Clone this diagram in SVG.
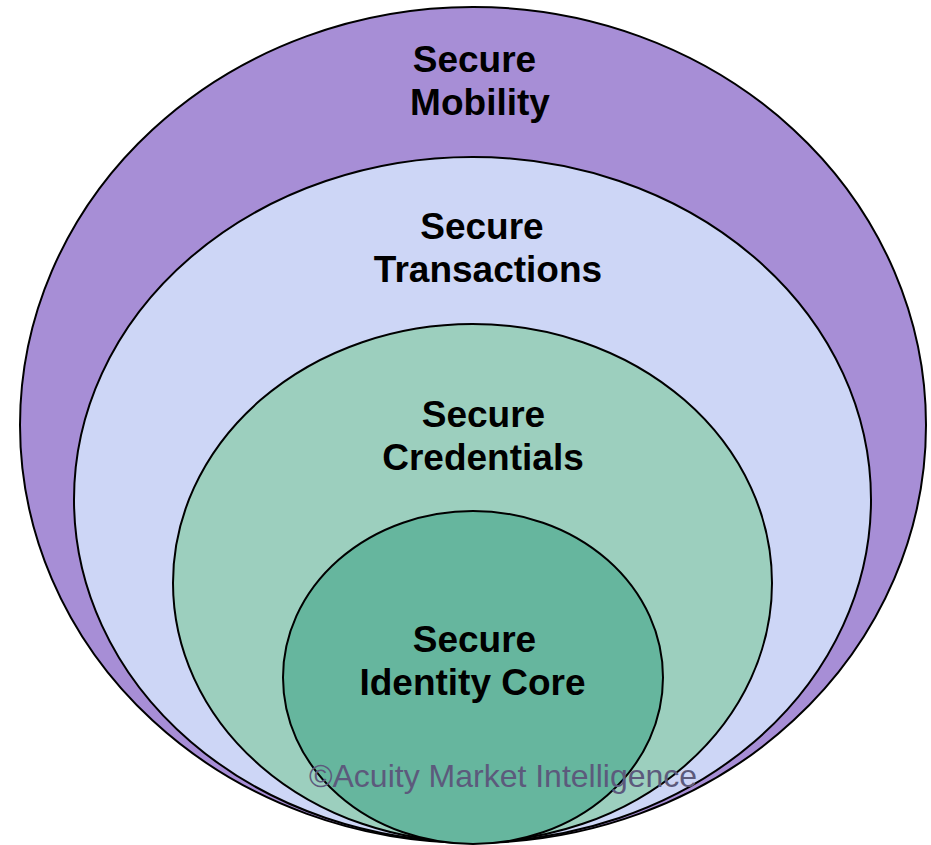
<svg xmlns="http://www.w3.org/2000/svg" width="931" height="845" viewBox="0 0 931 845">
<style>
.ring{stroke:#000;stroke-width:2}
.lbl{font-family:"Liberation Sans",Arial,sans-serif;font-weight:bold;font-size:37px;fill:#000;text-anchor:middle}
.copy{font-family:"Liberation Sans",Arial,sans-serif;font-size:32px;fill:#5C5A7C;text-anchor:middle}
</style>
<rect width="931" height="845" fill="#fff"/>
<g id="mobility">
<ellipse class="ring" cx="473" cy="425" rx="453" ry="418" fill="#A78ED6"/>
<text class="lbl"><tspan x="474.5" y="72">Secure</tspan><tspan x="480" y="115">Mobility</tspan></text>
</g>
<g id="transactions">
<ellipse class="ring" cx="472.5" cy="499.5" rx="398.5" ry="342.5" fill="#CDD6F6"/>
<text class="lbl"><tspan x="482" y="239">Secure</tspan><tspan x="488" y="282">Transactions</tspan></text>
</g>
<g id="credentials">
<ellipse class="ring" cx="472.5" cy="583" rx="299.5" ry="259" fill="#9CCFBE"/>
<text class="lbl"><tspan x="483.5" y="427">Secure</tspan><tspan x="483" y="470">Credentials</tspan></text>
</g>
<g id="identity-core">
<ellipse class="ring" cx="473" cy="677.5" rx="190" ry="166.5" fill="#66B69E"/>
<text class="lbl"><tspan x="474.5" y="652">Secure</tspan><tspan x="472.5" y="695">Identity Core</tspan></text>
</g>
<g id="connectors"/>
<text class="copy" x="503" y="787">©Acuity Market Intelligence</text>
</svg>
